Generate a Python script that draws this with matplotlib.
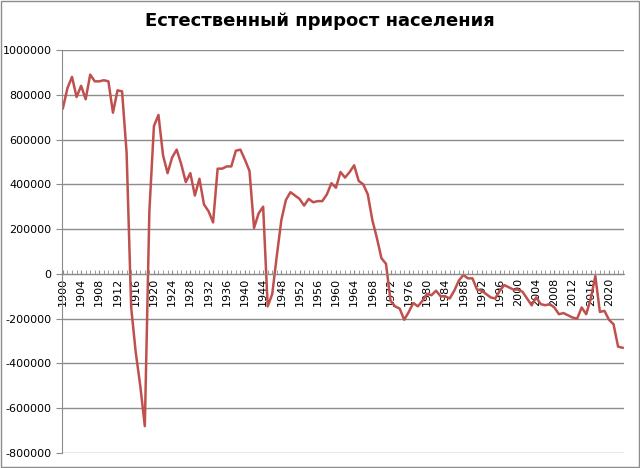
import matplotlib
matplotlib.use("Agg")
import matplotlib.pyplot as plt
import numpy as np

years = list(range(1900, 2024))
values = [740e3, 830e3, 880e3, 790e3, 840e3, 780e3, 890e3, 860e3, 860e3, 865e3,
          860e3, 720e3, 820e3, 815e3, 540e3, -150e3, -350e3, -500e3, -680e3, 280e3,
          660e3, 710e3, 530e3, 450e3, 520e3, 555e3, 490e3, 410e3, 450e3, 350e3,
          425e3, 310e3, 280e3, 230e3, 470e3, 470e3, 480e3, 480e3, 550e3, 555e3,
          510e3, 460e3, 205e3, 270e3, 300e3, -145e3, -90e3, 80e3, 240e3, 330e3,
          365e3, 350e3, 335e3, 305e3, 335e3, 320e3, 325e3, 325e3, 355e3, 405e3,
          385e3, 455e3, 430e3, 455e3, 485e3, 415e3, 400e3, 355e3, 240e3, 160e3,
          70e3, 45e3, -120e3, -145e3, -155e3, -205e3, -170e3, -130e3, -145e3, -120e3,
          -90e3, -95e3, -75e3, -100e3, -100e3, -110e3, -75e3, -30e3, -5e3, -20e3,
          -20e3, -70e3, -75e3, -90e3, -105e3, -110e3, -75e3, -50e3, -60e3, -70e3,
          -70e3, -80e3, -110e3, -140e3, -105e3, -135e3, -140e3, -135e3, -150e3, -180e3,
          -175e3, -185e3, -195e3, -200e3, -150e3, -180e3, -110e3, -10e3, -170e3, -165e3,
          -205e3, -225e3, -325e3, -330e3]
ytick_vals = list(range(-800000, 1000001, 200000))
title = "Естественный прирост населения"

fig = plt.figure(figsize=(6.4, 4.68), dpi=100)
ax = fig.add_axes([62/640, 15/468, 562/640, 403/468])
ax.plot(years, values, color="#C0504D", lw=1.8)
ax.set_xlim(1899.8, 2023.3)
ax.set_ylim(-800000, 1000000)
ax.set_yticks(ytick_vals)
ax.set_yticklabels([str(v) for v in ytick_vals], fontsize=8)
ax.yaxis.grid(True, color="#8c8c8c", lw=1)
ax.set_axisbelow(True)
for s in ["top", "right", "bottom"]:
    ax.spines[s].set_visible(False)
ax.spines["left"].set_color("#8c8c8c")
ax.spines["bottom"].set_visible(True)
ax.spines["bottom"].set_position(("data", 0))
ax.spines["bottom"].set_color("#8c8c8c")
ax.tick_params(axis="y", length=4, color="#8c8c8c")
ax.set_xticks(list(range(1900, 2024, 4)))
ax.set_xticks(years, minor=True)
ax.set_xticklabels([str(y) for y in range(1900, 2024, 4)], rotation=90, fontsize=8)
ax.tick_params(axis="x", which="both", direction="in", length=3, color="#8c8c8c", pad=3)
fig.text(0.5, 0.955, title, ha="center", va="center", fontsize=13, fontweight="bold")
fig.patches.append(plt.Rectangle((0.002, 0.002), 0.996, 0.996, transform=fig.transFigure,
                                 fill=False, edgecolor="#8c8c8c", lw=1))
fig.savefig("out.png", dpi=100)
